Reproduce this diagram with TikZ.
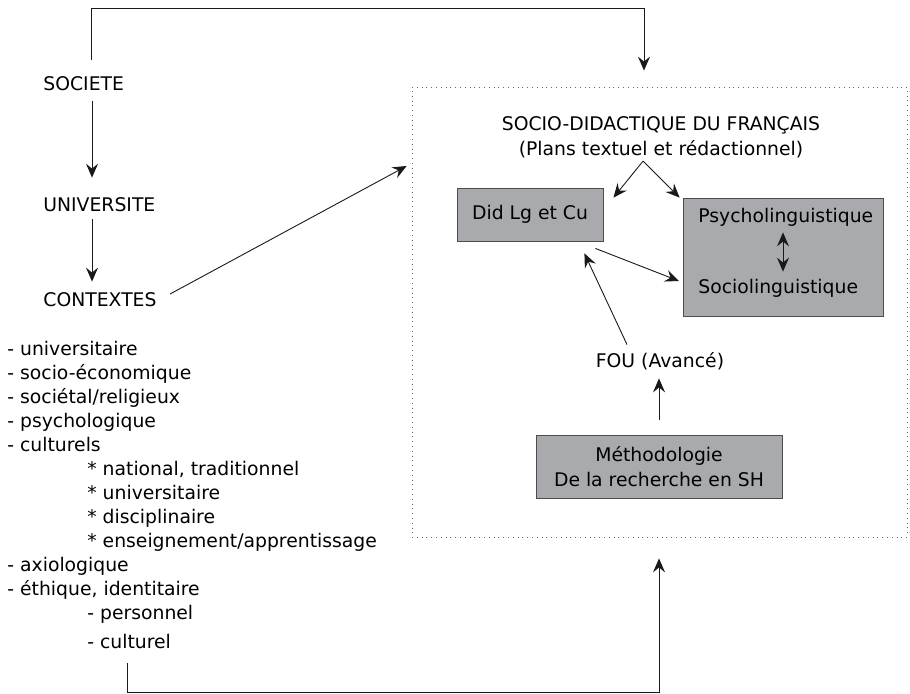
\documentclass[tikz,border=0pt]{standalone}
\usepackage{fontspec}
\setmainfont{DejaVu Sans}
\usetikzlibrary{arrows.meta}

\definecolor{boxgray}{RGB}{169,170,173}

\begin{document}
\begin{tikzpicture}[font=\fontsize{9.4pt}{12pt}\selectfont,
    >={Stealth[length=7pt,width=6pt,inset=2.5pt]},
    lbl/.style={inner sep=0pt, text height=7pt, text depth=2pt},
    gbox/.style={draw=black!70, fill=boxgray, inner sep=0pt},
    link/.style={draw=black!90, line width=.45pt}]
  \useasboundingbox (0,0) rectangle (16,12.185);

  % left column
  \coordinate (axis) at (1.618,0);
  \node[lbl, anchor=west] (societe) at (.756,10.69) {SOCIETE};
  \node[lbl, anchor=west] (univ) at (.756,8.562) {UNIVERSITE};
  \node[lbl, anchor=west] (contextes) at (.756,6.875) {CONTEXTES};
  \node[inner sep=0pt, anchor=north west, align=left] (liste) at (.123,6.194)
    {- universitaire\\
     - socio-économique\\
     - sociétal/religieux\\
     - psychologique\\
     - culturels\\
     \hspace*{40pt}* national, traditionnel\\
     \hspace*{40pt}* universitaire\\
     \hspace*{40pt}* disciplinaire\\
     \hspace*{40pt}* enseignement/apprentissage\\
     - axiologique\\
     - éthique, identitaire\\
     \hspace*{40pt}- personnel\\[2.5pt]
     \hspace*{40pt}- culturel};
  \coordinate (botout) at (2.233,.527);

  \draw[link,->,shorten <=3.5pt,shorten >=9.5pt] (societe.south -| axis) -- (univ.north -| axis);
  \draw[link,->,shorten <=2pt,shorten >=5.5pt] (univ.south -| axis) -- (contextes.north -| axis);

  % right frame
  \node[draw=black!60, dotted, minimum width=8.703cm, minimum height=7.912cm] (cadre) at (11.596,6.699) {};
  \node[inner sep=0pt, align=center, font=\fontsize{9.4pt}{12.5pt}\selectfont] (titre) at (11.622,9.776)
    {SOCIO-DIDACTIQUE DU FRANÇAIS\\(Plans textuel et rédactionnel)};
  \node[gbox, minimum width=2.567cm, minimum height=.932cm] (did) at (9.319,8.413) {Did Lg et Cu};
  \node[gbox, minimum width=3.516cm, minimum height=2.075cm] (psybox) at (13.767,7.666) {};
  \node[lbl, anchor=west] (psy) at (12.272,8.369) {Psycholinguistique};
  \node[lbl, anchor=west] (socio) at (12.272,7.121) {Sociolinguistique};
  \node[lbl] (fou) at (11.604,5.82) {FOU (Avancé)};
  \node[gbox, align=center, minimum width=4.325cm, minimum height=1.108cm,
    font=\fontsize{9.4pt}{12.5pt}\selectfont] (methodo) at (11.587,3.983)
    {Méthodologie\\De la recherche en SH};

  \draw[link,->] ([xshift=-.316cm,yshift=-1.5pt]titre.south) -- ([shift={(.176,-.176)}]did.north east);
  \draw[link,->] ([xshift=-.316cm,yshift=-1.5pt]titre.south) -- ([xshift=-.053cm]psybox.north west);
  \draw[link,<->,shorten <=3pt,shorten >=3.5pt] (psy.south -| psybox.center) -- (socio.north -| psybox.center);
  \draw[link,->] ([shift={(-.141,-.123)}]did.south east) -- ([shift={(-.334,.123)}]socio.west);
  \draw[link,->] ([shift={(-.58,.141)}]fou.north) -- ([shift={(-.334,-.211)}]did.south east);
  \draw[link,->,shorten <=7.5pt,shorten >=3.5pt] (methodo.north) -- (fou.south -| methodo.north);

  % outer links
  \draw[link,->] ([shift={(.23,.14)}]contextes.east) -- ([shift={(-.088,2.567)}]cadre.west);
  \draw[link,->] (societe.north -| 1.6,0) ++(0,.28) -- ++(0,.9) -| ([xshift=-.273cm,yshift=8pt]cadre.north);
  \draw[link,->] (botout) -- ++(0,-.509) -| ([xshift=-.009cm,yshift=-10.5pt]cadre.south);
\end{tikzpicture}
\end{document}
